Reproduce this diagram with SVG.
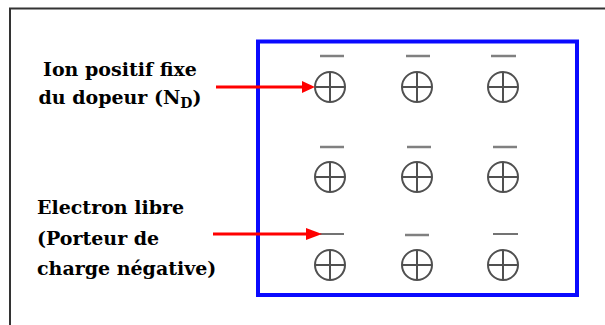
<svg xmlns="http://www.w3.org/2000/svg" width="605" height="325" viewBox="0 0 605 325">
  <style>
    .lbl { font-family: 'DejaVu Serif', serif; font-weight: 700; font-size: 19px; fill: #000; }
    .ion circle { fill: none; stroke: #505050; stroke-width: 2; }
    .ion line { stroke: #505050; stroke-width: 2; }
    .e { stroke: #808080; stroke-width: 2.5; }
    .e2 { stroke: #505050; stroke-width: 1.6; }
    .arr { stroke: #ff0000; stroke-width: 3; }
  </style>
  <defs>
    <g id="ionShape" class="ion">
      <circle cx="0" cy="0" r="15"/>
      <line x1="-15" y1="0" x2="15" y2="0"/>
      <line x1="0" y1="-15" x2="0" y2="15"/>
    </g>
  </defs>
  <rect width="605" height="325" fill="#ffffff"/>
  <path d="M10 325 V8.5 H605" fill="none" stroke="#333333" stroke-width="2"/>
  <g id="crystal">
    <rect x="258" y="41.5" width="319" height="253.5" fill="none" stroke="#0a0aff" stroke-width="4"/>
  </g>
  <g id="ions">
    <use href="#ionShape" x="330" y="87"/>
    <use href="#ionShape" x="417" y="87"/>
    <use href="#ionShape" x="503" y="87"/>
    <use href="#ionShape" x="330" y="177"/>
    <use href="#ionShape" x="417" y="177"/>
    <use href="#ionShape" x="503" y="177"/>
    <use href="#ionShape" x="330" y="265"/>
    <use href="#ionShape" x="417" y="265"/>
    <use href="#ionShape" x="503" y="265"/>
  </g>
  <g id="electrons">
    <line class="e" x1="320" y1="56" x2="344" y2="56"/>
    <line class="e" x1="406" y1="56" x2="430" y2="56"/>
    <line class="e" x1="491" y1="56" x2="516" y2="56"/>
    <line class="e" x1="320" y1="147" x2="344" y2="147"/>
    <line class="e" x1="407" y1="147" x2="431" y2="147"/>
    <line class="e" x1="493" y1="147" x2="517" y2="147"/>
    <line class="e2" x1="320" y1="234" x2="344" y2="234"/>
    <line class="e" x1="405" y1="235" x2="429" y2="235"/>
    <line class="e2" x1="493" y1="234" x2="518" y2="234"/>
  </g>
  <g id="label-ion">
    <text class="lbl" x="120" y="76" text-anchor="middle">Ion positif fixe</text>
    <text class="lbl" x="120" y="104" text-anchor="middle">du dopeur (N<tspan dy="4" font-size="14px">D</tspan><tspan dy="-4">)</tspan></text>
  </g>
  <g id="label-electron">
    <text class="lbl" x="37" y="214">Electron libre</text>
    <text class="lbl" x="37" y="245">(Porteur de</text>
    <text class="lbl" x="37" y="275">charge négative)</text>
  </g>
  <g id="connectors">
    <line class="arr" x1="216" y1="87" x2="304" y2="87"/>
    <polygon points="302,81 315,87 302,93" fill="#ff0000"/>
    <line class="arr" x1="213" y1="234" x2="307" y2="234"/>
    <polygon points="306,228 322,234 306,240" fill="#ff0000"/>
  </g>
</svg>
